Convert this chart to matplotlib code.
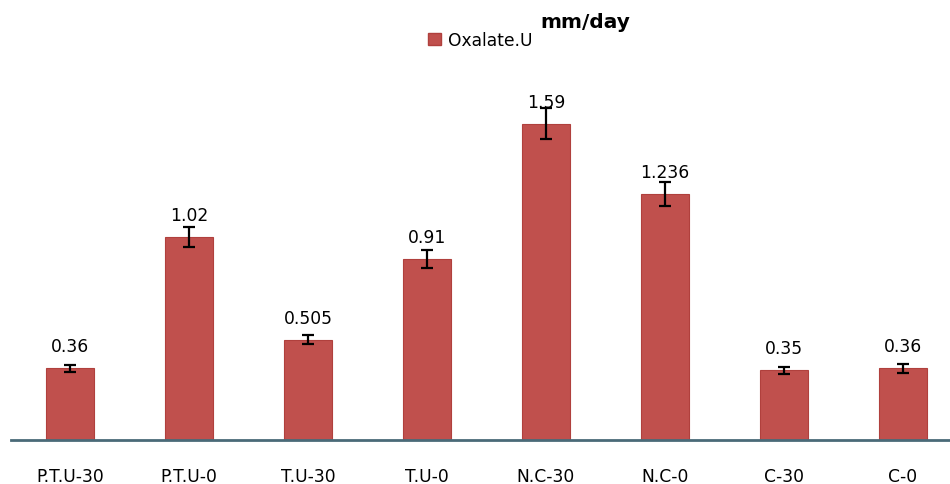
import matplotlib
matplotlib.use("Agg")
import matplotlib.pyplot as plt
from matplotlib.patches import Patch

categories = ["P.T.U-30", "P.T.U-0", "T.U-30", "T.U-0", "N.C-30", "N.C-0", "C-30", "C-0"]
values = [0.36, 1.02, 0.505, 0.91, 1.59, 1.236, 0.35, 0.36]
errors = [0.017, 0.048, 0.025, 0.045, 0.079, 0.059, 0.018, 0.021]
labels = ["0.36", "1.02", "0.505", "0.91", "1.59", "1.236", "0.35", "0.36"]
series_name = "Oxalate.U"
unit_title = "mm/day"

W, H = 950, 485
fig = plt.figure(figsize=(W / 100, H / 100), dpi=100)
left_px, base_px, top_px = 10.5, 441, 43
ax = fig.add_axes([left_px / W, (H - base_px) / H, (W - left_px) / W, (base_px - top_px) / H])

bar_color = "#C0504D"
x = list(range(len(categories)))
ax.bar(x, values, width=0.41, color=bar_color, edgecolor="#B0403D", linewidth=0.8, zorder=2)
ax.errorbar(x, values, yerr=errors, fmt="none", ecolor="black", elinewidth=1.6,
            capsize=4.5, capthick=1.6, zorder=3)

for xi, v, lab in zip(x, values, labels):
    ax.annotate(lab, (xi, v), xytext=(0, 15.8), textcoords="offset points",
                ha="center", va="center", fontsize=12.3, color="black", zorder=4)

ax.set_xlim(-0.5, (W - left_px) / 119.0 - 0.5)
ax.set_ylim(0, (base_px - top_px) / 199.0)
ax.set_xticks(x)
ax.set_xticklabels(categories, fontsize=12.3)
ax.tick_params(axis="x", length=0, pad=19.5)
ax.set_yticks([])
for s in ["top", "right", "left"]:
    ax.spines[s].set_visible(False)
ax.spines["bottom"].set_color("#4A6A78")
ax.spines["bottom"].set_linewidth(2)
ax.spines["bottom"].set_zorder(5)

handle = Patch(facecolor=bar_color, edgecolor="#B0403D")
fig.legend([handle], [series_name], loc="center left",
           bbox_to_anchor=(428 / W, 1 - 41 / H), frameon=False, fontsize=12.3,
           handlelength=0.75, handleheight=0.75, handletextpad=0.4, borderpad=0, borderaxespad=0)
fig.text(540 / W, 1 - 23 / H, unit_title, fontsize=14.5, fontweight="bold",
         ha="left", va="center")

fig.savefig("out.png", dpi=100)
